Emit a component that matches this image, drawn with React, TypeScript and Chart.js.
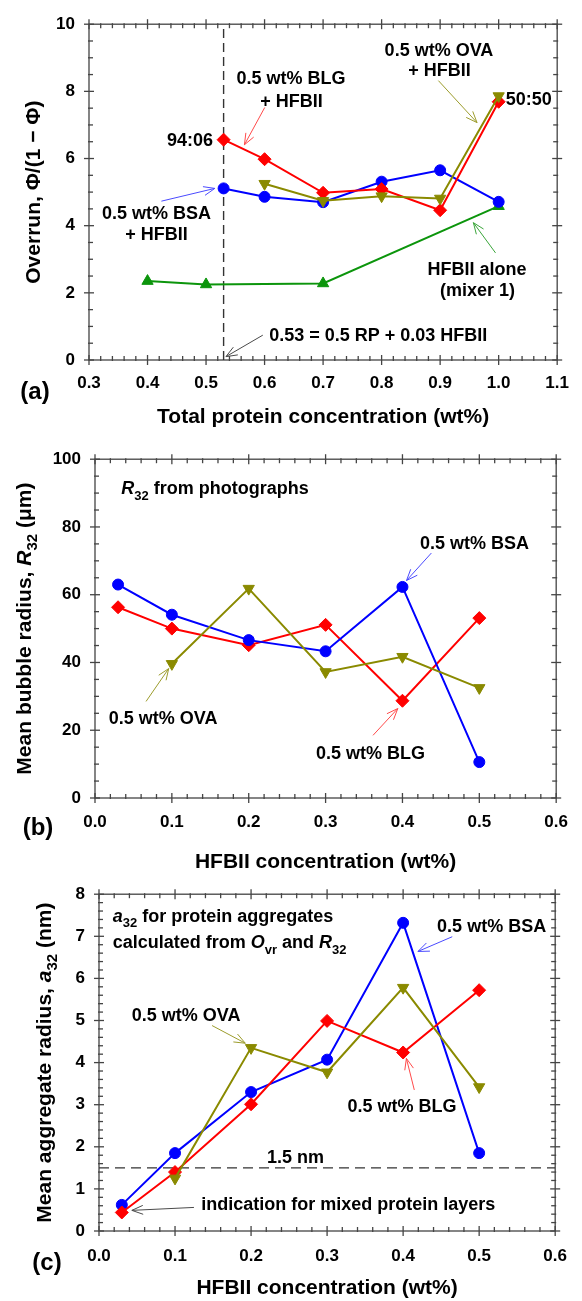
import React, { useEffect, useRef } from 'react';
import { Chart, registerables } from 'chart.js';

Chart.register(...registerables);

const FAMILY = '"Liberation Sans", Arial, Helvetica, sans-serif';

// ---------------- Panel (a): overrun vs total protein concentration ----------------
const aTotalBLG = [0.53, 0.6, 0.7, 0.8, 0.9, 1.0];
const aOverrunBLG = [6.56, 5.98, 4.98, 5.09, 4.46, 7.69];
const aTotalBSA = [0.53, 0.6, 0.7, 0.8, 0.9, 1.0];
const aOverrunBSA = [5.11, 4.86, 4.7, 5.31, 5.65, 4.71];
const aTotalOVA = [0.6, 0.7, 0.8, 0.9, 1.0];
const aOverrunOVA = [5.25, 4.74, 4.88, 4.81, 7.86];
const aTotalHFB = [0.4, 0.5, 0.7, 1.0];
const aOverrunHFB = [2.35, 2.25, 2.28, 4.58];
const aMarkerX = [0.53, 0.53];
const aMarkerY = [0, 10];
const aXTicks = [0.3, 0.4, 0.5, 0.6, 0.7, 0.8, 0.9, 1.0, 1.1];
const aYTicks = [0, 2, 4, 6, 8, 10];

// ---------------- Panel (b): mean bubble radius ----------------
const bHfb = [0.03, 0.1, 0.2, 0.3, 0.4, 0.5];
const bRadiusBSA = [63.0, 54.1, 46.6, 43.3, 62.3, 10.6];
const bRadiusBLG = [56.3, 50.0, 45.1, 51.1, 28.7, 53.1];
const bHfbOVA = [0.1, 0.2, 0.3, 0.4, 0.5];
const bRadiusOVA = [39.6, 61.8, 37.2, 41.7, 32.5];
const bXTicks = [0, 0.1, 0.2, 0.3, 0.4, 0.5, 0.6];
const bYTicks = [0, 20, 40, 60, 80, 100];

// ---------------- Panel (c): mean aggregate radius ----------------
const cHfb = [0.03, 0.1, 0.2, 0.3, 0.4, 0.5];
const cAggBSA = [0.62, 1.85, 3.3, 4.07, 7.32, 1.85];
const cAggBLG = [0.44, 1.4, 3.01, 4.99, 4.24, 5.72];
const cHfbOVA = [0.1, 0.2, 0.3, 0.4, 0.5];
const cAggOVA = [1.25, 4.35, 3.77, 5.78, 3.42];
const cLimitX = [0, 0.6];
const cLimitY = [1.5, 1.5];
const cXTicks = [0, 0.1, 0.2, 0.3, 0.4, 0.5, 0.6];
const cYTicks = [0, 1, 2, 3, 4, 5, 6, 7, 8];

type Seg = { t: string; i?: boolean; sub?: boolean };
type Note = { x: number; y: number; segs: Seg[]; align?: 'left' | 'center' | 'right' };
type Arrow = { x0: number; y0: number; x1: number; y1: number; s: string };

// annotations (data coordinates)
const aNotes: Note[] = [
  { x: 0.645, y: 8.41, segs: [{ t: '0.5 wt% BLG' }] },
  { x: 0.646, y: 7.74, segs: [{ t: '+ HFBII' }] },
  { x: 0.512, y: 6.56, segs: [{ t: '94:06' }], align: 'right' },
  { x: 0.898, y: 9.26, segs: [{ t: '0.5 wt% OVA' }] },
  { x: 0.899, y: 8.64, segs: [{ t: '+ HFBII' }] },
  { x: 1.012, y: 7.79, segs: [{ t: '50:50' }], align: 'left' },
  { x: 0.4155, y: 4.38, segs: [{ t: '0.5 wt% BSA' }] },
  { x: 0.4155, y: 3.76, segs: [{ t: '+ HFBII' }] },
  { x: 0.963, y: 2.72, segs: [{ t: 'HFBII alone' }] },
  { x: 0.964, y: 2.09, segs: [{ t: '(mixer 1)' }] },
  { x: 0.608, y: 0.75, segs: [{ t: '0.53 = 0.5 RP + 0.03 HFBII' }], align: 'left' },
];
const aArrows: Arrow[] = [
  { x0: 0.6003, y0: 7.52, x1: 0.5656, y1: 6.41, s: 'BLG' },
  { x0: 0.897, y0: 8.32, x1: 0.963, y1: 7.07, s: 'OVA' },
  { x0: 0.4237, y0: 4.73, x1: 0.515, y1: 5.11, s: 'BSA' },
  { x0: 0.9946, y0: 3.19, x1: 0.9568, y1: 4.09, s: 'HFB' },
  { x0: 0.597, y0: 0.74, x1: 0.534, y1: 0.1, s: 'REF' },
];

const bNotes: Note[] = [
  { x: 0.0342, y: 91.5, segs: [{ t: 'R', i: true }, { t: '32', sub: true }, { t: ' from photographs' }], align: 'left' },
  { x: 0.4936, y: 75.5, segs: [{ t: '0.5 wt% BSA' }] },
  { x: 0.0887, y: 23.8, segs: [{ t: '0.5 wt% OVA' }] },
  { x: 0.3583, y: 13.3, segs: [{ t: '0.5 wt% BLG' }] },
];
const bArrows: Arrow[] = [
  { x0: 0.4376, y0: 72.3, x1: 0.4053, y1: 64.2, s: 'BSA' },
  { x0: 0.0664, y0: 28.5, x1: 0.0959, y1: 38.2, s: 'OVA' },
  { x0: 0.3617, y0: 18.5, x1: 0.3939, y1: 26.4, s: 'BLG' },
];

const cNotes: Note[] = [
  { x: 0.018, y: 7.5, segs: [{ t: 'a', i: true }, { t: '32', sub: true }, { t: ' for protein aggregates' }], align: 'left' },
  {
    x: 0.018,
    y: 6.87,
    segs: [{ t: 'calculated from ' }, { t: 'O', i: true }, { t: 'vr', sub: true }, { t: ' and ' }, { t: 'R', i: true }, { t: '32', sub: true }],
    align: 'left',
  },
  { x: 0.5164, y: 7.25, segs: [{ t: '0.5 wt% BSA' }] },
  { x: 0.1145, y: 5.14, segs: [{ t: '0.5 wt% OVA' }] },
  { x: 0.3986, y: 2.99, segs: [{ t: '0.5 wt% BLG' }] },
  { x: 0.2584, y: 1.77, segs: [{ t: '1.5 nm' }] },
  { x: 0.1344, y: 0.66, segs: [{ t: 'indication for mixed protein layers' }], align: 'left' },
];
const cArrows: Arrow[] = [
  { x0: 0.4646, y0: 6.99, x1: 0.4195, y1: 6.64, s: 'BSA' },
  { x0: 0.1487, y0: 4.88, x1: 0.1924, y1: 4.46, s: 'OVA' },
  { x0: 0.4147, y0: 3.35, x1: 0.4043, y1: 4.1, s: 'BLG' },
  { x0: 0.1249, y0: 0.56, x1: 0.0432, y1: 0.49, s: 'REF' },
];

// ---------------- styles ----------------
const COLORS: Record<string, string> = {
  BLG: '#ff0000',
  BSA: '#0000ff',
  OVA: '#8a8a00',
  HFB: '#0c950c',
  REF: '#333333',
};
const ARROW_COLORS: Record<string, string> = {
  BLG: '#ff4a4a',
  BSA: '#4a4aff',
  OVA: '#9c9c2c',
  HFB: '#3aa53a',
  REF: '#4a4a4a',
};
const AXIS = '#444444';

function pts(xs: number[], ys: number[]) {
  return xs.map((x, i) => ({ x, y: ys[i] }));
}

function series(label: string, key: string, xs: number[], ys: number[], style: string, rotation = 0) {
  const c = COLORS[key];
  const radius = style === 'circle' ? 5.5 : 6.5;
  return {
    label,
    data: pts(xs, ys),
    showLine: true,
    borderColor: c,
    backgroundColor: c,
    borderWidth: 2,
    pointStyle: style,
    pointRotation: rotation,
    pointRadius: radius,
    pointBackgroundColor: c,
    pointBorderColor: c,
    pointBorderWidth: 1,
  };
}

function refLine(label: string, xs: number[], ys: number[], dash: number[]) {
  return {
    label,
    data: pts(xs, ys),
    showLine: true,
    borderColor: COLORS.REF,
    borderWidth: 1.4,
    borderDash: dash,
    pointRadius: 0,
  };
}

function drawRich(ctx: CanvasRenderingContext2D, segs: Seg[], x: number, y: number, size: number, align: string) {
  const parts = segs.map((s) => {
    const fs = s.sub ? Math.round(size * 0.72) : size;
    const f = `${s.i ? 'italic ' : ''}bold ${fs}px ${FAMILY}`;
    ctx.font = f;
    return { s, f, w: ctx.measureText(s.t).width };
  });
  const total = parts.reduce((a, p) => a + p.w, 0);
  let cx = align === 'left' ? x : align === 'right' ? x - total : x - total / 2;
  const base = y + size * 0.36;
  ctx.textBaseline = 'alphabetic';
  ctx.textAlign = 'left';
  ctx.fillStyle = '#000';
  for (const p of parts) {
    ctx.font = p.f;
    ctx.fillText(p.s.t, cx, base + (p.s.sub ? size * 0.3 : 0));
    cx += p.w;
  }
}

type PanelSpec = {
  top: number;
  height: number;
  area: { left: number; top: number; right: number; bottom: number };
  xH: number;
  xPad: number;
  xMin: number;
  xMax: number;
  yMin: number;
  yMax: number;
  xTicks: number[];
  yTicks: number[];
  xMinor: number;
  yMinor: number;
  xDec: number;
  yDec: number;
  xTitle: string;
  yTitle: Seg[];
  yTitleX: number;
  tag: string;
  tagPos: [number, number];
  notes: Note[];
  arrows: Arrow[];
  datasets: any[];
};

function decorPlugin(spec: PanelSpec) {
  return {
    id: 'decor',
    beforeDatasetsDraw(chart: any) {
      const { ctx, chartArea: ca, scales } = chart;
      const xs = scales.x;
      const ys = scales.y;
      ctx.save();
      ctx.strokeStyle = AXIS;
      ctx.lineWidth = 1.3;
      ctx.strokeRect(ca.left, ca.top, ca.right - ca.left, ca.bottom - ca.top);
      const line = (x0: number, y0: number, x1: number, y1: number) => {
        ctx.beginPath();
        ctx.moveTo(x0, y0);
        ctx.lineTo(x1, y1);
        ctx.stroke();
      };
      const nx = Math.round((spec.xMax - spec.xMin) / spec.xMinor);
      for (let k = 0; k <= nx; k++) {
        const v = spec.xMin + k * spec.xMinor;
        const major = spec.xTicks.some((t) => Math.abs(t - v) < 1e-6);
        const px = xs.getPixelForValue(v);
        const o = major ? 5 : 1;
        const i = major ? 5 : 4;
        line(px, ca.bottom + o, px, ca.bottom - i);
        line(px, ca.top - o, px, ca.top + i);
      }
      const ny = Math.round((spec.yMax - spec.yMin) / spec.yMinor);
      for (let k = 0; k <= ny; k++) {
        const v = spec.yMin + k * spec.yMinor;
        const major = spec.yTicks.some((t) => Math.abs(t - v) < 1e-6);
        const py = ys.getPixelForValue(v);
        const o = major ? 5 : 1;
        const i = major ? 5 : 4;
        line(ca.left - o, py, ca.left + i, py);
        line(ca.right + o, py, ca.right - i, py);
      }
      ctx.restore();
    },
    afterDatasetsDraw(chart: any) {
      const { ctx, chartArea: ca, scales } = chart;
      const xs = scales.x;
      const ys = scales.y;
      ctx.save();
      // arrows
      for (const a of spec.arrows) {
        const x0 = xs.getPixelForValue(a.x0);
        const y0 = ys.getPixelForValue(a.y0);
        const x1 = xs.getPixelForValue(a.x1);
        const y1 = ys.getPixelForValue(a.y1);
        ctx.strokeStyle = ARROW_COLORS[a.s];
        ctx.lineWidth = 1;
        ctx.beginPath();
        ctx.moveTo(x0, y0);
        ctx.lineTo(x1, y1);
        const ang = Math.atan2(y1 - y0, x1 - x0);
        const L = 12;
        const h = 0.38;
        ctx.moveTo(x1 - L * Math.cos(ang - h), y1 - L * Math.sin(ang - h));
        ctx.lineTo(x1, y1);
        ctx.lineTo(x1 - L * Math.cos(ang + h), y1 - L * Math.sin(ang + h));
        ctx.stroke();
      }
      // notes
      for (const n of spec.notes) {
        drawRich(ctx, n.segs, xs.getPixelForValue(n.x), ys.getPixelForValue(n.y), 18, n.align || 'center');
      }
      // y title (rotated)
      ctx.save();
      ctx.translate(spec.yTitleX, (ca.top + ca.bottom) / 2);
      ctx.rotate(-Math.PI / 2);
      drawRich(ctx, spec.yTitle, 0, 0, 21, 'center');
      ctx.restore();
      // panel tag
      ctx.font = `bold 24px ${FAMILY}`;
      ctx.fillStyle = '#000';
      ctx.textAlign = 'center';
      ctx.textBaseline = 'middle';
      ctx.fillText(spec.tag, spec.tagPos[0], spec.tagPos[1]);
      ctx.restore();
    },
  };
}

function buildConfig(spec: PanelSpec): any {
  const tickFont = { family: FAMILY, weight: 'bold' as const, size: 17 };
  return {
    type: 'scatter',
    data: { datasets: spec.datasets },
    options: {
      animation: false,
      responsive: false,
      events: [],
      layout: {
        padding: {
          left: 0,
          top: spec.area.top,
          right: 582 - spec.area.right,
          bottom: spec.height - spec.area.bottom - spec.xH,
        },
      },
      plugins: { legend: { display: false }, tooltip: { enabled: false } },
      scales: {
        x: {
          type: 'linear',
          min: spec.xMin,
          max: spec.xMax,
          grid: { display: false, drawTicks: false },
          border: { display: false },
          afterBuildTicks: (s: any) => {
            s.ticks = spec.xTicks.map((v) => ({ value: v }));
          },
          afterFit: (s: any) => {
            s.height = spec.xH;
          },
          ticks: {
            padding: spec.xPad,
            color: '#000',
            font: tickFont,
            maxRotation: 0,
            autoSkip: false,
            callback: (v: any) => Number(v).toFixed(spec.xDec),
          },
          title: {
            display: true,
            text: spec.xTitle,
            color: '#000',
            font: { family: FAMILY, weight: 'bold' as const, size: 21 },
            padding: { top: 0, bottom: 0 },
          },
        },
        y: {
          type: 'linear',
          min: spec.yMin,
          max: spec.yMax,
          grid: { display: false, drawTicks: false },
          border: { display: false },
          afterBuildTicks: (s: any) => {
            s.ticks = spec.yTicks.map((v) => ({ value: v }));
          },
          afterFit: (s: any) => {
            s.width = spec.area.left;
          },
          ticks: {
            padding: 14,
            color: '#000',
            font: tickFont,
            autoSkip: false,
            callback: (v: any) => Number(v).toFixed(spec.yDec),
          },
        },
      },
    },
    plugins: [decorPlugin(spec)],
  };
}

const panels: PanelSpec[] = [
  {
    top: 0,
    height: 435,
    area: { left: 89, top: 21, right: 558, bottom: 360 },
    xH: 70,
    xPad: 13,
    xMin: 0.3,
    xMax: 1.1,
    yMin: 0,
    yMax: 10,
    xTicks: aXTicks,
    yTicks: aYTicks,
    xMinor: 0.02,
    yMinor: 0.5,
    xDec: 1,
    yDec: 0,
    xTitle: 'Total protein concentration (wt%)',
    yTitle: [{ t: 'Overrun, Φ/(1 − Φ)' }],
    yTitleX: 32,
    tag: '(a)',
    tagPos: [35, 392],
    notes: aNotes,
    arrows: aArrows,
    datasets: [
      series('0.5 wt% OVA + HFBII', 'OVA', aTotalOVA, aOverrunOVA, 'triangle', 180),
      series('0.5 wt% BLG + HFBII', 'BLG', aTotalBLG, aOverrunBLG, 'rectRot'),
      series('0.5 wt% BSA + HFBII', 'BSA', aTotalBSA, aOverrunBSA, 'circle'),
      series('HFBII alone (mixer 1)', 'HFB', aTotalHFB, aOverrunHFB, 'triangle'),
      refLine('0.53 wt%', aMarkerX, aMarkerY, [9, 5]),
    ],
  },
  {
    top: 435,
    height: 445,
    area: { left: 95, top: 24, right: 566, bottom: 363 },
    xH: 77,
    xPad: 14,
    xMin: 0,
    xMax: 0.6,
    yMin: 0,
    yMax: 100,
    xTicks: bXTicks,
    yTicks: bYTicks,
    xMinor: 0.02,
    yMinor: 5,
    xDec: 1,
    yDec: 0,
    xTitle: 'HFBII concentration (wt%)',
    yTitle: [{ t: 'Mean bubble radius, ' }, { t: 'R', i: true }, { t: '32', sub: true }, { t: ' (μm)' }],
    yTitleX: 23,
    tag: '(b)',
    tagPos: [38, 393],
    notes: bNotes,
    arrows: bArrows,
    datasets: [
      series('0.5 wt% OVA', 'OVA', bHfbOVA, bRadiusOVA, 'triangle', 180),
      series('0.5 wt% BSA', 'BSA', bHfb, bRadiusBSA, 'circle'),
      series('0.5 wt% BLG', 'BLG', bHfb, bRadiusBLG, 'rectRot'),
    ],
  },
  {
    top: 870,
    height: 431,
    area: { left: 99, top: 24, right: 569, bottom: 361 },
    xH: 70,
    xPad: 15,
    xMin: 0,
    xMax: 0.6,
    yMin: 0,
    yMax: 8,
    xTicks: cXTicks,
    yTicks: cYTicks,
    xMinor: 0.02,
    yMinor: 0.2,
    xDec: 1,
    yDec: 0,
    xTitle: 'HFBII concentration (wt%)',
    yTitle: [{ t: 'Mean aggregate radius, ' }, { t: 'a', i: true }, { t: '32', sub: true }, { t: ' (nm)' }],
    yTitleX: 43,
    tag: '(c)',
    tagPos: [47, 393],
    notes: cNotes,
    arrows: cArrows,
    datasets: [
      series('0.5 wt% OVA', 'OVA', cHfbOVA, cAggOVA, 'triangle', 180),
      series('0.5 wt% BLG', 'BLG', cHfb, cAggBLG, 'rectRot'),
      series('0.5 wt% BSA', 'BSA', cHfb, cAggBSA, 'circle'),
      refLine('1.5 nm', cLimitX, cLimitY, [10, 6]),
    ],
  },
];

function Panel({ spec }: { spec: PanelSpec }) {
  const ref = useRef<HTMLCanvasElement>(null);
  useEffect(() => {
    if (!ref.current) return;
    const chart = new Chart(ref.current, buildConfig(spec));
    return () => chart.destroy();
  }, [spec]);
  return (
    <div style={{ position: 'absolute', left: 0, top: spec.top, width: 582, height: spec.height }}>
      <canvas ref={ref} width={582} height={spec.height} style={{ display: 'block', width: 582, height: spec.height }} />
    </div>
  );
}

export default function App() {
  return (
    <div
      style={{
        position: 'absolute',
        left: 0,
        top: 0,
        width: 582,
        height: 1301,
        overflow: 'hidden',
        background: '#fff',
      }}
    >
      {panels.map((p) => (
        <Panel key={p.tag} spec={p} />
      ))}
    </div>
  );
}
